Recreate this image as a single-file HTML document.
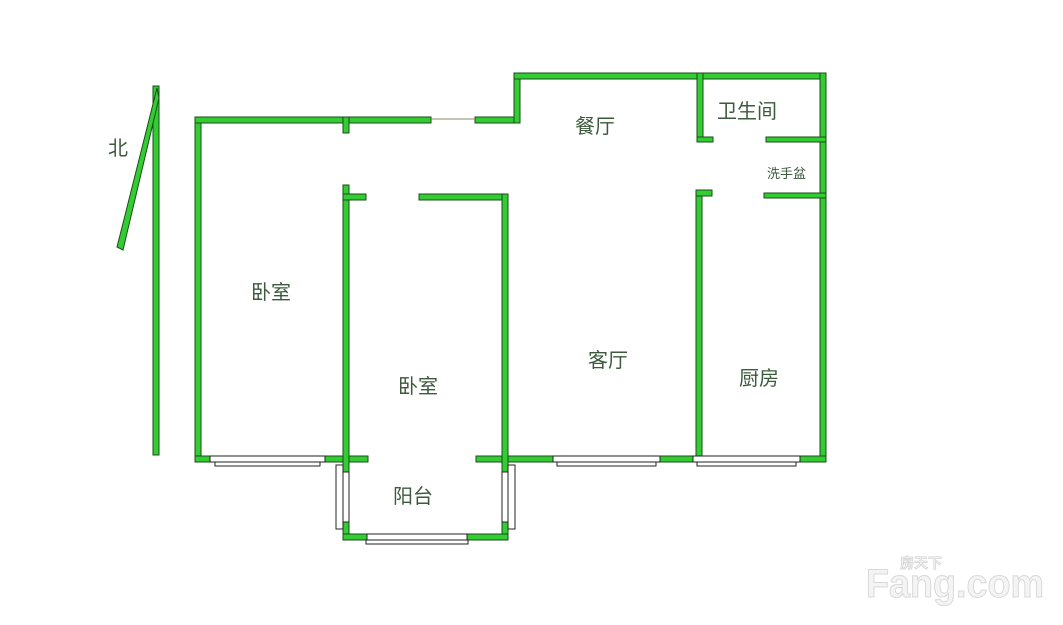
<!DOCTYPE html>
<html><head><meta charset="utf-8"><style>
body{margin:0;background:#fff}
svg text{font-family:"Liberation Sans","Noto Sans CJK SC",sans-serif;fill:#3d5a3d}
</style></head><body>
<svg width="1063" height="620" viewBox="0 0 1063 620" xmlns="http://www.w3.org/2000/svg">
<g fill="#33cc33" stroke="#1a4d1a" stroke-width="1">
<rect x="195" y="117" width="6" height="345"/>
<rect x="195" y="117" width="236" height="6"/>
<rect x="475" y="117" width="45" height="6"/>
<rect x="514" y="73" width="6" height="50"/>
<rect x="514" y="73" width="312" height="6"/>
<rect x="820" y="73" width="6" height="389"/>
<rect x="343" y="117" width="6" height="16"/>
<rect x="195" y="456" width="173" height="6"/>
<rect x="476" y="456" width="350" height="6"/>
<rect x="343" y="185" width="6" height="355"/>
<rect x="343" y="194" width="23" height="6"/>
<rect x="419" y="194" width="89" height="6"/>
<rect x="502" y="194" width="6" height="346"/>
<rect x="343" y="534" width="165" height="6"/>
<rect x="696" y="190" width="6" height="272"/>
<rect x="696" y="190" width="16" height="6"/>
<rect x="697" y="73" width="6" height="69"/>
<rect x="697" y="137" width="16" height="5"/>
<rect x="766" y="137" width="60" height="5"/>
<rect x="764" y="193" width="62" height="5"/>
<polygon points="153,86 159,86 159,455 153,455"/>
<polygon points="157,88 159,98 123,250 117,247"/>
</g>
<line x1="431" y1="119" x2="475" y2="119" stroke="#8a8a6a" stroke-width="1"/>
<g fill="#fff" stroke="#222" stroke-width="1">
<rect x="210" y="456" width="115" height="6"/>
<rect x="215" y="462" width="105" height="4"/>
<rect x="553" y="456" width="107" height="6"/>
<rect x="557" y="462" width="99" height="4"/>
<rect x="693" y="456" width="107" height="6"/>
<rect x="697" y="462" width="99" height="4"/>
<rect x="367" y="534" width="100" height="6"/>
<rect x="366" y="540" width="102" height="4"/>
<rect x="343" y="472" width="6" height="50"/>
<rect x="336" y="465" width="7" height="64"/>
<rect x="502" y="472" width="6" height="50"/>
<rect x="508" y="465" width="7" height="64"/>
</g>
<g font-size="20">
<text x="108" y="155">北</text>
<text x="251" y="299">卧室</text>
<text x="398" y="393">卧室</text>
<text x="575" y="133">餐厅</text>
<text x="588" y="367">客厅</text>
<text x="717" y="118">卫生间</text>
<text x="739" y="385">厨房</text>
<text x="393" y="503">阳台</text>
</g>
<text x="767" y="178" font-size="13">洗手盆</text>
<text x="900" y="568" font-size="14" font-weight="bold" style="fill:#f2f2f2;stroke:#ccc;stroke-width:0.6">房天下</text>
<text x="866" y="597" font-size="40" font-weight="bold" textLength="178" lengthAdjust="spacingAndGlyphs" style="fill:#f4f4f4;stroke:#d8d8d8;stroke-width:1">Fang.com</text>
</svg>
</body></html>
